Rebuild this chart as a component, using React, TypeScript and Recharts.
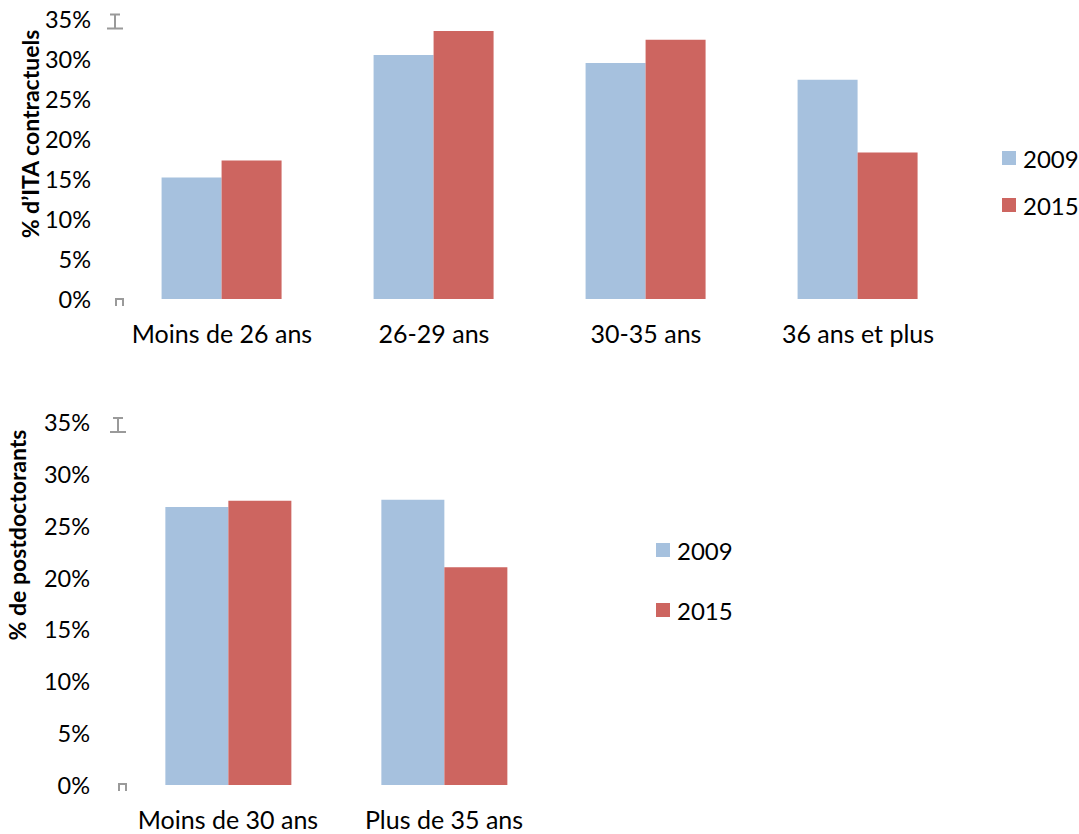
import React from "react"
import { BarChart, Bar, XAxis, YAxis, Legend, Label } from "recharts"

// tranches d'âge et parts (%)
const itaAges = ["Moins de 26 ans", "26-29 ans", "30-35 ans", "36 ans et plus"]
const ita2009 = [15.2, 30.5, 29.5, 27.4]
const ita2015 = [17.3, 33.5, 32.4, 18.3]

const postdocAges = ["Moins de 30 ans", "Plus de 35 ans"]
const postdoc2009 = [26.8, 27.5]
const postdoc2015 = [27.4, 21.0]

const yTicks = [0, 5, 10, 15, 20, 25, 30, 35]
const years = ["2009", "2015"]

const FONT = "Lato, 'Open Sans', sans-serif"
const BLUE = "#A6C1DE"
const RED = "#CD6560"
const GLYPH = "#9a9a9a"

const itaData = itaAges.map((age, i) => ({ age, y2009: ita2009[i], y2015: ita2015[i] }))
const postdocData = postdocAges.map((age, i) => ({ age, y2009: postdoc2009[i], y2015: postdoc2015[i] }))

// tick de l'axe Y, avec les petites marques grises en haut et en bas
function makeYTick(topOff: [number, number], zeroOff: [number, number]) {
  return function YTick(props: any) {
    const { x, y, payload } = props
    const v = payload.value
    const tx = x + topOff[0]
    const ty = y + topOff[1]
    const zx = x + zeroOff[0]
    const zy = y + zeroOff[1]
    return (
      <g>
        <text x={x} y={y} textAnchor="end" dominantBaseline="central" fontFamily={FONT} fontSize={23.5} fill="#000">
          {`${v}%`}
        </text>
        {v === 35 && (
          <path
            d={`M${tx - 5},${ty - 7} H${tx + 5} M${tx},${ty - 7} V${ty + 7} M${tx - 8},${ty + 7} H${tx + 8}`}
            stroke={GLYPH}
            strokeWidth={2}
            fill="none"
          />
        )}
        {v === 0 && (
          <path
            d={`M${zx - 3.5},${zy + 4} V${zy - 3} H${zx + 3.5} V${zy + 4}`}
            stroke={GLYPH}
            strokeWidth={2}
            fill="none"
          />
        )}
      </g>
    )
  }
}

function makeLegend(spacing: number) {
  return function LegendBox() {
    return (
      <div style={{ fontFamily: FONT, fontSize: 24, color: "#000" }}>
        {years.map((yr, i) => (
          <div key={yr} style={{ height: spacing, display: "flex", alignItems: "center" }}>
            <span
              style={{ width: 14, height: 14, background: i === 0 ? BLUE : RED, display: "inline-block", marginRight: 7 }}
            />
            <span>{yr}</span>
          </div>
        ))}
      </div>
    )
  }
}

function YTitle({ text, x, y }: { text: string; x: number; y: number }) {
  return (
    <text
      x={x}
      y={y}
      transform={`rotate(-90 ${x} ${y})`}
      textAnchor="middle"
      dominantBaseline="central"
      fontFamily={FONT}
      fontSize={23}
      fontWeight="bold"
      fill="#000"
    >
      {text}
    </text>
  )
}

export default function App() {
  return (
    <div style={{ position: "relative", width: 1079, height: 834, background: "#fff" }}>
      <style>{"body{margin:0;}"}</style>

      <div style={{ position: "absolute", left: 0, top: 0 }}>
        <BarChart
          width={1079}
          height={360}
          data={itaData}
          margin={{ top: 19, right: 115, bottom: 0, left: 0 }}
          barCategoryGap="21.5%"
          barGap={0}
        >
          <XAxis
            dataKey="age"
            axisLine={false}
            tickLine={false}
            tickSize={0}
            tickMargin={26}
            height={61}
            interval={0}
            tick={{ fontFamily: FONT, fontSize: 25, fill: "#000" }}
          />
          <YAxis
            domain={[0, 35]}
            ticks={yTicks}
            axisLine={false}
            tickLine={false}
            tickSize={0}
            tickMargin={25}
            width={116}
            tick={makeYTick([24, 2.5], [28.5, 3])}
          >
            <Label content={() => <YTitle text="% d’ITA contractuels" x={30} y={134} />} />
          </YAxis>
          <Legend
            layout="vertical"
            align="center"
            verticalAlign="middle"
            content={makeLegend(47)}
            wrapperStyle={{ left: 1002, top: 134.5, width: 80 }}
          />
          <Bar dataKey="y2009" name="2009" fill={BLUE} isAnimationActive={false} />
          <Bar dataKey="y2015" name="2015" fill={RED} isAnimationActive={false} />
        </BarChart>
      </div>

      <div style={{ position: "absolute", left: 0, top: 370 }}>
        <BarChart
          width={1079}
          height={464}
          data={postdocData}
          margin={{ top: 52, right: 527, bottom: 0, left: 0 }}
          barCategoryGap="21%"
          barGap={0}
        >
          <XAxis
            dataKey="age"
            axisLine={false}
            tickLine={false}
            tickSize={0}
            tickMargin={26}
            height={49}
            interval={0}
            tick={{ fontFamily: FONT, fontSize: 25, fill: "#000" }}
          />
          <YAxis
            domain={[0, 35]}
            ticks={yTicks}
            axisLine={false}
            tickLine={false}
            tickSize={0}
            tickMargin={30}
            width={120}
            tick={makeYTick([28, 3], [32.5, 2])}
          >
            <Label content={() => <YTitle text="% de postdoctorants" x={17} y={165} />} />
          </YAxis>
          <Legend
            layout="vertical"
            align="center"
            verticalAlign="middle"
            content={makeLegend(60)}
            wrapperStyle={{ left: 656, top: 150, width: 90 }}
          />
          <Bar dataKey="y2009" name="2009" fill={BLUE} isAnimationActive={false} />
          <Bar dataKey="y2015" name="2015" fill={RED} isAnimationActive={false} />
        </BarChart>
      </div>
    </div>
  )
}
